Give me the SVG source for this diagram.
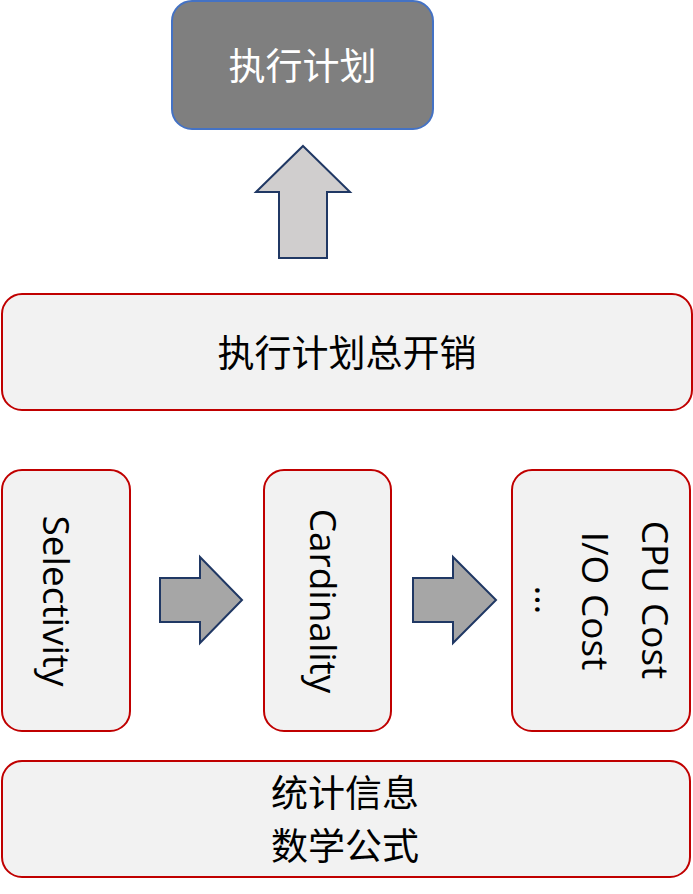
<svg xmlns="http://www.w3.org/2000/svg" width="693" height="894" viewBox="0 0 693 894">
<style>
.box{fill:#F2F2F2;stroke:#C00000;stroke-width:2}
.top{fill:#7F7F7F;stroke:#4472C4;stroke-width:2}
.cjk{font-family:"Noto Sans CJK SC","Noto Sans",sans-serif;font-size:37px;text-anchor:middle;fill:#000}
.lat{font-family:"Open Sans","Noto Sans",sans-serif;font-size:37px;text-anchor:middle;fill:#000}
.arr{stroke:#203864;stroke-width:2;stroke-linejoin:miter}
</style>
<rect width="693" height="894" fill="#FFFFFF"/>
<g id="node-plan">
<rect class="top" x="172" y="1" width="261" height="128" rx="20"/>
<text class="cjk" x="302.5" y="80" style="fill:#FFFFFF">执行计划</text>
</g>
<g id="node-total-cost">
<rect class="box" x="2" y="294" width="690" height="116" rx="20"/>
<text class="cjk" x="347" y="367">执行计划总开销</text>
</g>
<g id="node-selectivity">
<rect class="box" x="2" y="470" width="128" height="261" rx="20"/>
<text class="lat" transform="translate(43,601) rotate(90)">Selectivity</text>
</g>
<g id="node-cardinality">
<rect class="box" x="264" y="470" width="127" height="261" rx="20"/>
<text class="lat" transform="translate(310,601) rotate(90)">Cardinality</text>
</g>
<g id="node-cost">
<rect class="box" x="512" y="470" width="178" height="261" rx="20"/>
<text class="lat" transform="translate(642,600) rotate(90)">CPU Cost</text>
<text class="lat" transform="translate(582,601) rotate(90)">I/O Cost</text>
<text class="lat" transform="translate(535,600) rotate(90)">…</text>
</g>
<g id="node-stats">
<rect class="box" x="2" y="761" width="688" height="116" rx="20"/>
<text class="cjk" x="345" y="807">统计信息</text>
<text class="cjk" x="345" y="860">数学公式</text>
</g>
<g id="connectors">
<polygon class="arr" fill="#D0CECE" points="303,146 350,192 327,192 327,258 279,258 279,192 256,192"/>
<polygon class="arr" fill="#A6A6A6" points="160,578 200,578 200,557 242,600 200,643 200,622 160,622"/>
<polygon class="arr" fill="#A6A6A6" points="413,578 453,578 453,557 496,600 453,643 453,622 413,622"/>
</g>
</svg>
